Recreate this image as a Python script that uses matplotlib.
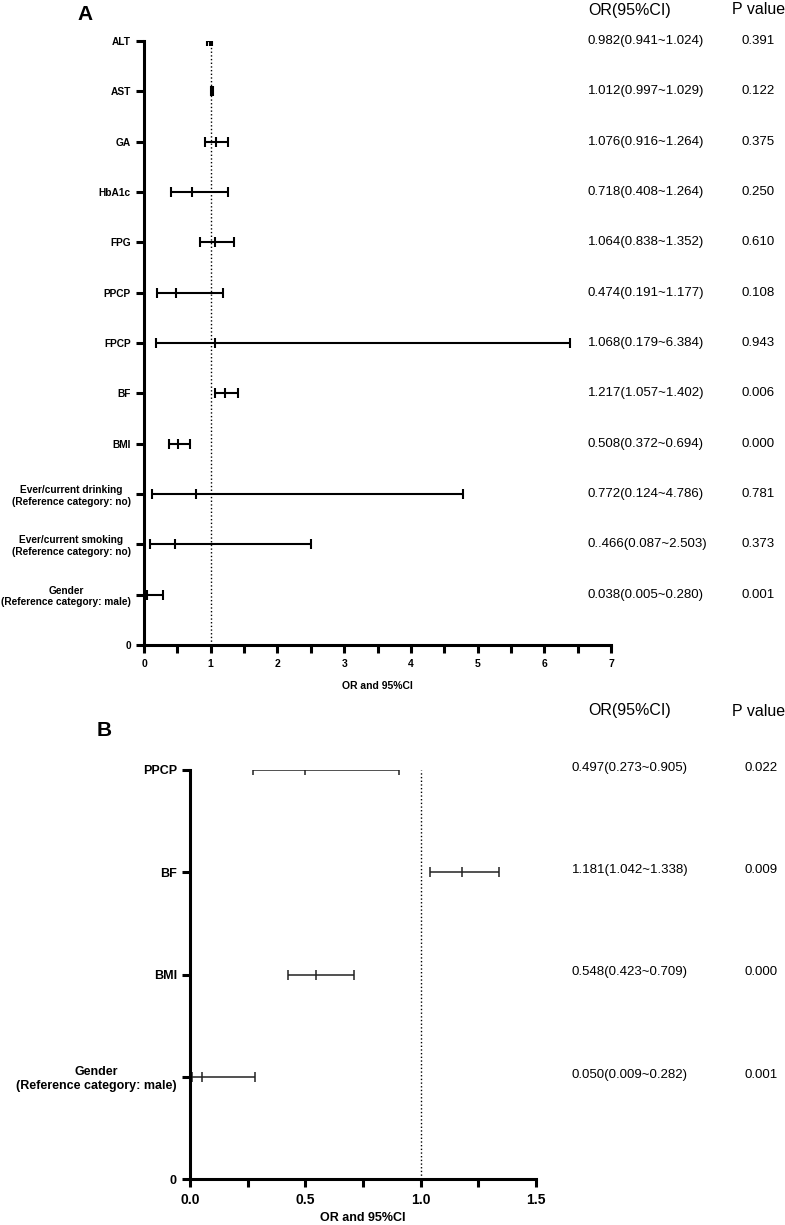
import numpy as np
import matplotlib; matplotlib.use('Agg')
import matplotlib.pyplot as plt
from matplotlib.transforms import blended_transform_factory

plt.rcParams['font.family'] = ['Liberation Sans', 'DejaVu Sans']

# panel A (top to bottom)
A_LABELS = ['ALT', 'AST', 'GA', 'HbA1c', 'FPG', 'PPCP', 'FPCP', 'BF', 'BMI',
            'Ever/current drinking\n(Reference category: no)',
            'Ever/current smoking\n(Reference category: no)',
            'Gender\n(Reference category: male)']
A_OR = [0.982, 1.012, 1.076, 0.718, 1.064, 0.474, 1.068, 1.217, 0.508, 0.772, 0.466, 0.038]
A_LO = [0.941, 0.997, 0.916, 0.408, 0.838, 0.191, 0.179, 1.057, 0.372, 0.124, 0.087, 0.005]
A_HI = [1.024, 1.029, 1.264, 1.264, 1.352, 1.177, 6.384, 1.402, 0.694, 4.786, 2.503, 0.280]
A_TXT = ['0.982(0.941~1.024)', '1.012(0.997~1.029)', '1.076(0.916~1.264)', '0.718(0.408~1.264)',
         '1.064(0.838~1.352)', '0.474(0.191~1.177)', '1.068(0.179~6.384)', '1.217(1.057~1.402)',
         '0.508(0.372~0.694)', '0.772(0.124~4.786)', '0..466(0.087~2.503)', '0.038(0.005~0.280)']
A_P = ['0.391', '0.122', '0.375', '0.250', '0.610', '0.108', '0.943', '0.006', '0.000', '0.781', '0.373', '0.001']
A_XT = [0, 1, 2, 3, 4, 5, 6, 7]

# panel B
B_LABELS = ['PPCP', 'BF', 'BMI', 'Gender\n(Reference category: male)']
B_OR = [0.497, 1.181, 0.548, 0.050]
B_LO = [0.273, 1.042, 0.423, 0.009]
B_HI = [0.905, 1.338, 0.709, 0.282]
B_TXT = ['0.497(0.273~0.905)', '1.181(1.042~1.338)', '0.548(0.423~0.709)', '0.050(0.009~0.282)']
B_P = ['0.022', '0.009', '0.000', '0.001']
B_XT = [0.0, 0.5, 1.0, 1.5]

W, H = 785, 1225
fig = plt.figure(figsize=(W / 100, H / 100), dpi=100)


def forest(ax, labels, orv, lo, hi, xt, lw, color, fs_lab, fs_tick, fs_xl, pad_xl):
    n = len(labels)
    ypos = np.arange(n, 0, -1)
    orv, lo, hi = map(np.asarray, (orv, lo, hi))
    ax.errorbar(orv, ypos, xerr=[orv - lo, hi - orv], fmt='none', ecolor=color,
                elinewidth=lw, capsize=3.4, capthick=lw)
    ax.plot(orv, ypos, ls='none', marker='|', ms=7, mew=lw, color=color)
    ax.axvline(1, ls=':', lw=1.0, color='black', zorder=0)
    ax.set_xlim(xt[0], xt[-1])
    ax.set_ylim(0, n)
    step = xt[1] - xt[0]
    ax.set_xticks(xt)
    ax.set_xticks(np.arange(xt[0] + step / 2, xt[-1], step), minor=True)
    fmt = '{:.1f}' if step < 1 else '{:g}'
    ax.set_xticklabels([fmt.format(v) for v in xt], fontsize=fs_tick, fontweight='bold')
    ax.set_yticks(list(ypos) + [0])
    ax.set_yticklabels(list(labels) + ['0'], fontsize=fs_lab, fontweight='bold', multialignment='center')
    for s in ('top', 'right'):
        ax.spines[s].set_visible(False)
    for s in ('left', 'bottom'):
        ax.spines[s].set_linewidth(2.2)
        ax.spines[s].set_clip_on(False)
    ax.tick_params(axis='both', which='both', width=2.2, length=6, direction='out')
    ax.tick_params(axis='x', pad=4)
    ax.set_xlabel('OR and 95%CI', fontsize=fs_xl, fontweight='bold', labelpad=pad_xl)
    return ypos


axA = fig.add_axes([144 / W, 1 - 645 / H, (611 - 144) / W, (645 - 41) / H])
yA = forest(axA, A_LABELS, A_OR, A_LO, A_HI, A_XT, 1.5, 'black', 7.3, 7.5, 7.5, 9)

axB = fig.add_axes([190 / W, 1 - 1179 / H, (536 - 190) / W, (1179 - 770) / H])
yB = forest(axB, B_LABELS, B_OR, B_LO, B_HI, B_XT, 1.1, '#222222', 9, 10, 9, 4)

# right-hand text columns
trA = blended_transform_factory(fig.transFigure, axA.transData)
for y, t, p in zip(yA, A_TXT, A_P):
    fig.text(588 / W, y, t, transform=trA, fontsize=9.5, va='center', ha='left')
    fig.text(758 / W, y, p, transform=trA, fontsize=9.5, va='center', ha='center')
trB = blended_transform_factory(fig.transFigure, axB.transData)
for y, t, p in zip(yB, B_TXT, B_P):
    fig.text(572 / W, y + 0.02, t, transform=trB, fontsize=9.5, va='center', ha='left')
    fig.text(761 / W, y + 0.02, p, transform=trB, fontsize=9.5, va='center', ha='center')

for yy in (10, 711):
    fig.text(630 / W, 1 - yy / H, 'OR(95%CI)', fontsize=11.5, ha='center', va='center')
    fig.text(759 / W, 1 - yy / H, 'P value', fontsize=11.5, ha='center', va='center')

fig.text(77 / W, 1 - 15 / H, 'A', fontsize=15, fontweight='bold', ha='left', va='center')
fig.text(97 / W, 1 - 731 / H, 'B', fontsize=15, fontweight='bold', ha='left', va='center')

fig.savefig('out.png', dpi=100)
